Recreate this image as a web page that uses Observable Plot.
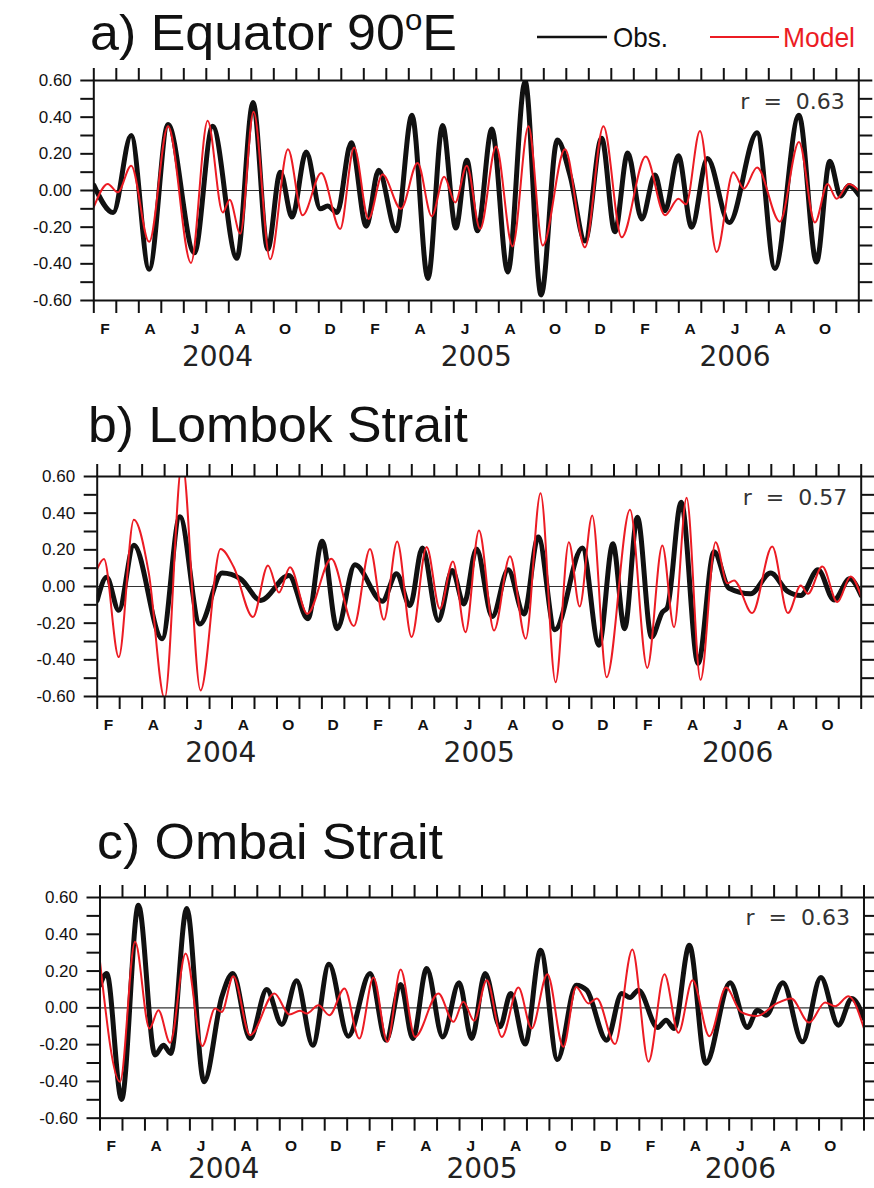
<!DOCTYPE html>
<html><head><meta charset="utf-8">
<script src="https://cdn.jsdelivr.net/npm/d3@7"></script>
<script src="https://cdn.jsdelivr.net/npm/@observablehq/plot@0.6"></script>
<style>
body{margin:0;background:#fff;}
#fig{position:relative;width:874px;height:1188px;overflow:hidden;font-family:"Liberation Sans",Arial,sans-serif;background:#fff;}
#fig .panel{position:absolute;left:0;width:874px;}
#fig svg.overlay{position:absolute;left:0;top:0;pointer-events:none;}
</style></head><body><div id="fig"></div>
<script>
// time axis: months since 1 Feb 2004 (0 .. 34 = 1 Dec 2006)
const monthTicks = d3.range(0, 35);
const monthLabelPos = [0.5,2.5,4.5,6.5,8.5,10.5,12.5,14.5,16.5,18.5,20.5,22.5,24.5,26.5,28.5,30.5,32.5];
const monthLabels = ["F","A","J","A","O","D","F","A","J","A","O","D","F","A","J","A","O"];
const yearLabelPos = [5.5, 17, 28.5];
const yearLabels = ["2004","2005","2006"];
const yTickValues = [0.6,0.4,0.2,0,-0.2,-0.4,-0.6];
const yTickLabels = ["0.60","0.40","0.20","0.00","-0.20","-0.40","-0.60"];
const yMinorTicks = [-0.6,-0.5,-0.4,-0.3,-0.2,-0.1,0,0.1,0.2,0.3,0.4,0.5,0.6];

const titles = ["a) Equator 90", "b) Lombok Strait", "c) Ombai Strait"];
const rValues = ["0.63", "0.57", "0.63"];
const legendLabels = ["Obs.", "Model"];

// a) Equator 90E
const aObsT = [0,0.86,1.66,2.46,3.30,4.47,5.28,6.36,7.08,7.73,8.29,8.81,9.44,10.07,10.39,10.81,11.44,12.11,12.66,13.44,14.14,14.85,15.50,16.09,16.58,17.05,17.69,18.40,19.17,19.88,20.60,21.17,21.83,22.57,23.16,23.73,24.35,24.94,25.39,25.98,26.57,27.27,28.24,29.48,30.27,31.34,32.12,32.71,33.19,33.56,34.0];
const aObsV = [0.03,-0.12,0.30,-0.43,0.36,-0.34,0.35,-0.37,0.48,-0.32,0.10,-0.145,0.21,-0.10,-0.085,-0.12,0.26,-0.195,0.11,-0.22,0.41,-0.48,0.355,-0.205,0.165,-0.22,0.335,-0.445,0.595,-0.57,0.275,0.08,-0.275,0.285,-0.225,0.205,-0.155,0.085,-0.11,0.19,-0.20,0.175,-0.175,0.315,-0.425,0.41,-0.39,0.16,-0.03,0.027,-0.024];
const aModT = [0,0.62,1.07,1.66,2.46,3.30,4.32,5.06,5.73,6.04,6.51,7.10,7.84,8.63,9.28,10.11,10.95,11.57,12.21,12.83,13.65,14.39,15.02,15.57,16.06,16.58,17.17,17.88,18.61,19.32,19.95,20.94,21.83,22.65,23.46,24.53,25.39,25.98,26.32,26.94,27.68,28.42,28.89,29.48,30.49,31.34,32.05,32.61,33.01,33.56,34.0];
const aModV = [-0.09,0.036,-0.01,0.135,-0.28,0.35,-0.395,0.38,-0.12,-0.05,-0.235,0.43,-0.375,0.225,-0.135,0.095,-0.21,0.235,-0.155,0.087,-0.10,0.15,-0.14,0.075,-0.065,0.135,-0.21,0.24,-0.305,0.35,-0.30,0.225,-0.31,0.35,-0.255,0.185,-0.135,-0.045,-0.075,0.325,-0.335,0.10,0.01,0.125,-0.17,0.265,-0.175,0.035,-0.045,0.035,0.0];

// b) Lombok Strait
const bObsT = [0,0.42,0.96,1.63,2.89,3.68,4.57,5.56,6.38,7.27,8.53,9.38,10.01,10.68,11.47,12.69,13.32,13.92,14.47,15.18,15.80,16.32,16.88,17.58,18.29,18.99,19.63,20.37,21.59,22.33,22.95,23.47,24.04,24.67,25.15,25.37,25.99,26.74,27.45,28.12,29.08,29.97,30.71,31.31,32.08,32.79,33.49,34.0];
const bObsV = [-0.076,0.05,-0.13,0.225,-0.285,0.38,-0.205,0.073,0.042,-0.076,0.06,-0.176,0.247,-0.23,0.118,-0.08,0.07,-0.104,0.21,-0.185,0.087,-0.095,0.205,-0.164,0.091,-0.15,0.27,-0.236,0.21,-0.32,0.233,-0.23,0.378,-0.276,-0.14,-0.116,0.46,-0.42,0.19,-0.01,-0.04,0.073,-0.025,-0.049,0.091,-0.073,0.042,-0.049];
const bModT = [0,0.30,0.96,1.63,2.30,3.00,3.78,4.60,5.49,6.08,6.93,7.60,8.09,8.58,9.35,10.42,11.42,12.14,12.76,13.35,13.99,14.66,15.25,15.83,16.39,16.99,17.66,18.37,19.07,19.73,20.40,20.99,21.47,22.03,22.67,23.71,24.48,25.15,25.67,26.23,26.85,27.52,28.04,28.34,29.15,30.04,30.74,31.31,31.63,32.27,32.94,33.53,34.0];
const bModV = [0.096,0.15,-0.385,0.364,0.07,-0.61,0.68,-0.567,0.205,0.105,-0.167,0.115,-0.033,0.105,-0.149,0.151,-0.216,0.205,-0.182,0.245,-0.276,0.215,-0.122,0.136,-0.249,0.305,-0.24,0.165,-0.285,0.509,-0.522,0.242,-0.109,0.387,-0.495,0.418,-0.444,0.224,-0.222,0.484,-0.509,0.242,0.018,0.033,-0.145,0.218,-0.145,0.005,-0.04,0.109,-0.085,0.055,-0.055];

// c) Ombai Strait
const cObsT = [0,0.30,0.96,1.71,2.45,2.82,3.15,3.86,4.63,5.42,5.91,6.68,7.42,8.09,8.75,9.47,10.19,11.05,12.02,12.73,13.38,13.92,14.54,15.25,15.98,16.54,17.14,17.80,18.28,18.92,19.61,20.36,21.19,21.66,22.55,23.22,23.59,23.96,24.82,25.19,25.55,26.23,26.96,28.04,28.81,29.26,29.64,30.39,31.26,32.08,32.86,33.46,34.0];
const cObsV = [0.123,0.187,-0.498,0.558,-0.257,-0.203,-0.248,0.54,-0.402,0.06,0.187,-0.167,0.10,-0.09,0.147,-0.203,0.237,-0.154,0.187,-0.176,0.127,-0.167,0.214,-0.158,0.136,-0.167,0.187,-0.103,0.078,-0.197,0.313,-0.281,0.123,0.096,-0.176,0.078,0.056,0.096,-0.107,-0.067,-0.112,0.34,-0.302,0.136,-0.107,-0.013,-0.04,0.136,-0.185,0.165,-0.094,0.051,-0.058];
const cModT = [0,0.89,1.56,2.20,2.60,3.12,3.81,4.55,5.12,5.42,5.93,6.68,7.76,8.43,8.90,9.20,9.72,10.21,10.88,11.54,12.17,12.79,13.38,14.02,15.06,15.73,16.17,16.65,17.21,17.88,18.62,19.21,19.91,20.62,21.19,21.74,22.11,22.92,23.69,24.41,25.12,25.74,26.37,27.12,27.86,28.52,29.23,30.12,30.76,31.56,32.27,32.72,33.31,34.0];
const cModV = [0.25,-0.402,0.359,-0.112,-0.013,-0.19,0.295,-0.208,-0.004,-0.022,0.172,-0.149,0.078,-0.036,-0.016,-0.031,0.014,-0.04,0.105,-0.167,0.165,-0.185,0.208,-0.158,0.078,-0.076,0.033,-0.07,0.15,-0.158,0.11,-0.112,0.183,-0.212,0.114,0.024,0.051,-0.197,0.317,-0.293,0.183,-0.136,0.15,-0.154,0.11,-0.022,-0.045,0.024,0.051,-0.08,0.029,0.009,0.063,-0.112];

const zip = (T, V) => T.map((t, i) => ({t, v: V[i]}));
const OBS = "#111111", MOD = "#ec1c24";

const panels = [
  {obs: zip(aObsT, aObsV), mod: zip(aModT, aModV), top: 80, bottom: 300, left: 93.3, right: 858.3, r: rValues[0], yearDy: 65},
  {obs: zip(bObsT, bObsV), mod: zip(bModT, bModV), top: 476, bottom: 696, left: 96.7, right: 860.7, r: rValues[1], yearDy: 65},
  {obs: zip(cObsT, cObsV), mod: zip(cModT, cModV), top: 897.3, bottom: 1118, left: 99.5, right: 863.5, r: rValues[2], yearDy: 60}
];

const fig = document.getElementById("fig");
const MT = 20, MB = 69;

panels.forEach(p => {
  const H = p.bottom - p.top;
  const chart = Plot.plot({
    width: 874,
    height: H + MT + MB,
    marginTop: MT, marginBottom: MB,
    marginLeft: p.left, marginRight: 874 - p.right,
    x: {domain: [0, 34]},
    y: {domain: [-0.6, 0.6]},
    style: {background: "none", overflow: "visible", color: "#111", fontFamily: "'Liberation Sans', Arial, sans-serif"},
    marks: [
      Plot.ruleY([0], {stroke: "#333", strokeWidth: 1.2}),
      Plot.line(p.obs, {x: "t", y: "v", curve: "monotone-x", stroke: OBS, strokeWidth: 5, clip: true}),
      Plot.line(p.mod, {x: "t", y: "v", curve: "monotone-x", stroke: MOD, strokeWidth: 2, clip: true}),
      Plot.frame({stroke: "#111", strokeWidth: 2}),
      Plot.axisX(monthTicks, {anchor: "bottom", tickSize: 13, tickFormat: () => "", strokeWidth: 2, label: null}),
      Plot.axisX(monthTicks, {anchor: "top", tickSize: 13, tickFormat: () => "", strokeWidth: 2, label: null}),
      Plot.axisY(yMinorTicks, {anchor: "left", tickSize: 13, tickFormat: () => "", strokeWidth: 2, label: null}),
      Plot.axisY(yMinorTicks, {anchor: "right", tickSize: 13, tickFormat: () => "", strokeWidth: 2, label: null}),
      Plot.text(yTickValues, {y: d => d, text: (d, i) => yTickLabels[i], frameAnchor: "left", dx: -22, textAnchor: "end", fontSize: 17, fill: "#111"}),
      Plot.text(monthLabelPos, {x: d => d, text: (d, i) => monthLabels[i], frameAnchor: "bottom", dy: 33, lineAnchor: "bottom", fontSize: 15.5, fontWeight: "bold", fill: "#111"}),
      Plot.text(yearLabelPos, {x: d => d, text: (d, i) => yearLabels[i], frameAnchor: "bottom", dy: p.yearDy, lineAnchor: "bottom", fontSize: 28, fontFamily: "'DejaVu Sans', sans-serif", fill: "#222"}),
      Plot.text([`r  =  ${p.r}`], {frameAnchor: "top-right", dx: -14, dy: 28, lineAnchor: "bottom", textAnchor: "end", fontSize: 22, fontFamily: "'DejaVu Sans', sans-serif", fill: "#333"})
    ]
  });
  const div = document.createElement("div");
  div.className = "panel";
  div.style.top = (p.top - MT) + "px";
  div.appendChild(chart);
  fig.appendChild(div);
});

// titles and legend overlay
const ov = d3.select(fig).append("svg").attr("class", "overlay")
  .attr("width", 874).attr("height", 1188);

function fitText(sel, x, y, target) {
  const w = sel.node().getComputedTextLength();
  sel.attr("transform", `translate(${x},${y}) scale(${target / w},1)`);
}

const titlePos = [{x: 90, y: 50, w: 367}, {x: 88, y: 442, w: 380}, {x: 97, y: 859, w: 346}];
titlePos.forEach((tp, i) => {
  const t = ov.append("text").attr("font-size", 50).attr("fill", "#111")
    .style("font-family", "'Liberation Sans', Arial, sans-serif");
  t.append("tspan").text(titles[i]);
  if (i === 0) {
    t.append("tspan").attr("font-size", 30).attr("dy", -20).text("o");
    t.append("tspan").attr("dy", 20).text("E");
  }
  fitText(t, tp.x, tp.y, tp.w);
});

// legend
ov.append("line").attr("x1", 537).attr("x2", 607).attr("y1", 37).attr("y2", 37).attr("stroke", OBS).attr("stroke-width", 2.5);
ov.append("line").attr("x1", 710).attr("x2", 779).attr("y1", 37).attr("y2", 37).attr("stroke", MOD).attr("stroke-width", 2);
const l1 = ov.append("text").attr("font-size", 27).attr("fill", "#111").text(legendLabels[0]);
fitText(l1, 613, 47, 55);
const l2 = ov.append("text").attr("font-size", 27).attr("fill", MOD).text(legendLabels[1]);
fitText(l2, 783, 47, 72);
</script></body></html>
